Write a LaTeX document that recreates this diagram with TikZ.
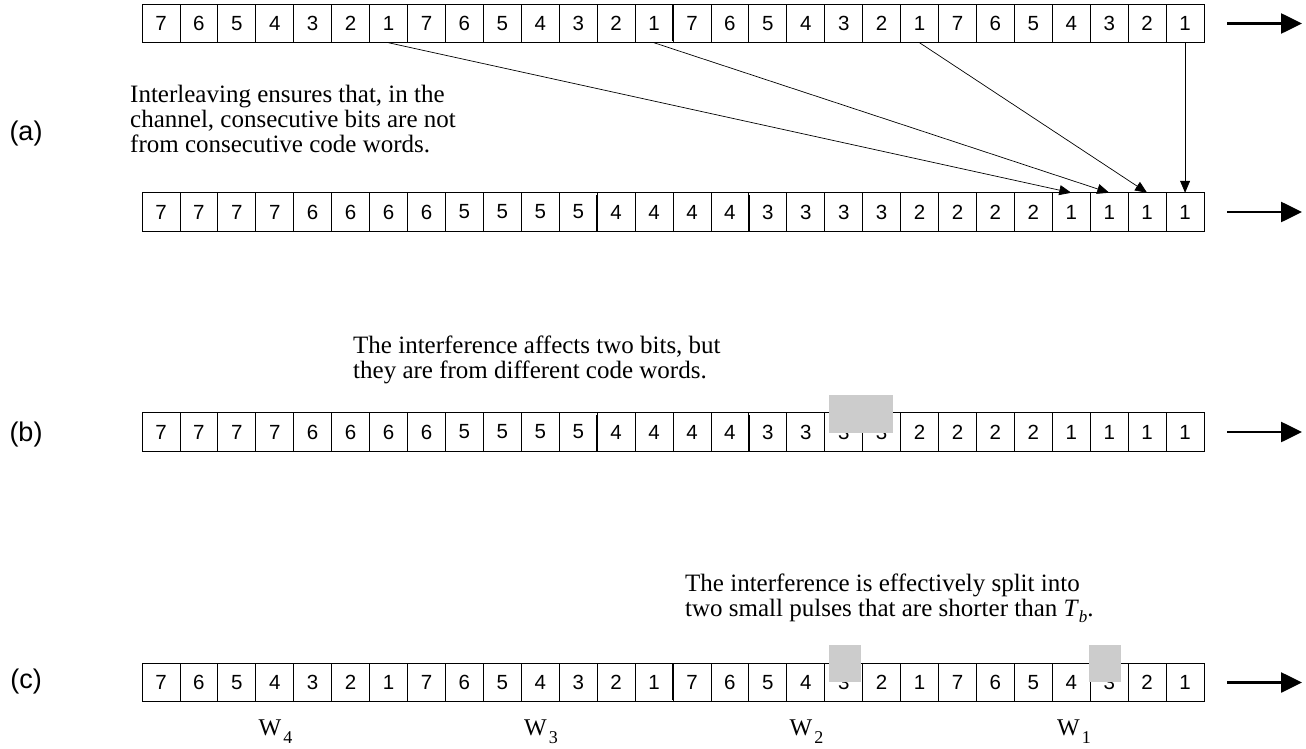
\documentclass[tikz,border=0pt]{standalone}
\usepackage{fontspec}
\setmainfont{Liberation Serif}
\setsansfont{Liberation Sans}
\usetikzlibrary{arrows.meta}
\newcommand\wsub[1]{\hspace{2pt}\raisebox{-8pt}{\fontsize{18}{18}\selectfont #1}}
\newcommand\tsub[1]{\raisebox{-6pt}{\fontsize{17}{17}\selectfont\itshape #1}}
\definecolor{pulse}{HTML}{CCCCCC}
\begin{document}
\begin{tikzpicture}[x=1pt,y=-1pt,
  cell/.style={draw, line width=0.8pt, minimum width=37.93pt, minimum height=38.5pt,
    inner sep=0pt, outer sep=0pt, font=\sffamily\fontsize{20.5}{20.5}\selectfont},
  sep/.style={line width=1.4pt},
  link/.style={line width=0.7pt, -{Triangle[length=12pt,width=10pt]}},
  bigarrow/.style={line width=2.6pt, -{Triangle[length=21pt,width=20pt]}},
  txt/.style={anchor=base west, inner sep=0pt, font=\fontsize{25}{25}\selectfont},
  lab/.style={inner sep=0pt, font=\sffamily\fontsize{27}{27}\selectfont},
  wlab/.style={anchor=base, inner sep=0pt, font=\fontsize{24}{24}\selectfont}]
\useasboundingbox (0,0) rectangle (1306,749);
% rows
\foreach \i in {0,...,27} {
  \pgfmathtruncatemacro\d{7-mod(\i,7)}
  \pgfmathtruncatemacro\e{7-floor(\i/4)}
  \node[cell] (t\i) at ({142+37.93*(\i+0.5)},23.5) {\d};
  \node[cell] (a\i) at ({142+37.93*(\i+0.5)},212) {\e};
  \node[cell] (b\i) at ({142+37.93*(\i+0.5)},432) {\e};
  \node[cell] (c\i) at ({142+37.93*(\i+0.5)},682.5) {\d};
}
% slightly heavier group separators
\foreach \i in {6,13,20} {
  \draw[sep] ([yshift=-1pt]t\i.north east) -- ([yshift=2pt]t\i.south east);
  \draw[sep] ([yshift=-1pt]c\i.north east) -- ([yshift=2pt]c\i.south east);
}
\foreach \i in {3,7,11,15,19,23} {
  \draw[sep] ([yshift=-2pt]a\i.north east) -- (a\i.south east);
  \draw[sep] ([yshift=-2pt]b\i.north east) -- (b\i.south east);
}
% interleaving arrows
\draw[link] (t6.south) -- (a24.north);
\draw[link] (t13.south) -- (a25.north);
\draw[link] (t20.south) -- (a26.north);
\draw[link] (t27.south) -- (a27.north);
% output arrows
\foreach \r/\y in {t/23.5,a/212,b/432,c/682.5} {
  \coordinate (\r s) at (1227,\y);
  \coordinate (\r e) at (1302,\y);
  \draw[bigarrow] (\r s) -- (\r e);
}
% interference pulses
\fill[pulse] (829,395) rectangle (893,433);
\fill[pulse] (829,645) rectangle (861,682);
\fill[pulse] (1089,645) rectangle (1121,682);
% labels
\node[lab] (la) at (26,134) {(a)};
\node[lab] (lb) at (26,435) {(b)};
\node[lab] (lc) at (26,682) {(c)};
% texts
\node[txt] (ta1) at (130,103) {Interleaving ensures that, in the};
\node[txt] (ta2) at (130,128) {channel, consecutive bits are not};
\node[txt] (ta3) at (130,153) {from consecutive code words.};
\node[txt] (tb1) at (353,353) {The interference affects two bits, but};
\node[txt] (tb2) at (353,378) {they are from different code words.};
\node[txt] (tc1) at (685,591) {The interference is effectively split into};
\node[txt] (tc2) at (685,616) {two small pulses that are shorter than \textit{T}\tsub{b}.};
% word labels
\node[wlab] (w4) at (275.5,735) {W\wsub{4}};
\node[wlab] (w3) at (541,735) {W\wsub{3}};
\node[wlab] (w2) at (806.5,735) {W\wsub{2}};
\node[wlab] (w1) at (1074,735) {W\wsub{1}};
\end{tikzpicture}
\end{document}
